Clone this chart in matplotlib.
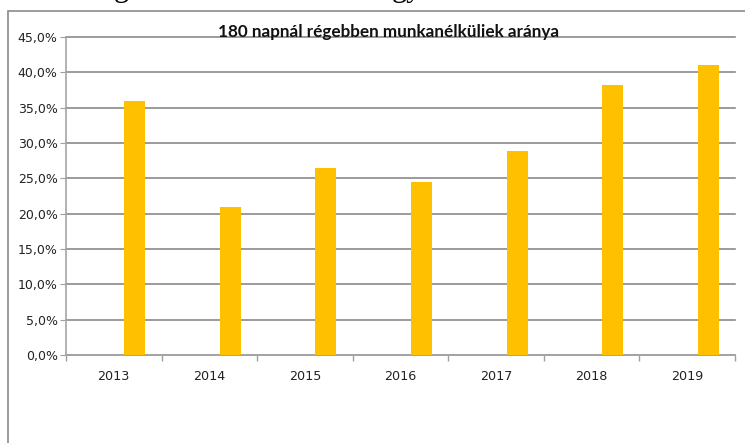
import numpy as np
import matplotlib.pyplot as plt
from matplotlib.patches import Rectangle
from matplotlib.ticker import FuncFormatter

# adatok
evek = ['2013', '2014', '2015', '2016', '2017', '2018', '2019']
arany = [36.0, 20.9, 26.5, 24.5, 28.9, 38.2, 41.0]
cim = '180 napnál régebben munkanélküliek aránya'

W, H = 745, 443
fig = plt.figure(figsize=(W / 100, H / 100), dpi=100)

# kulso keret (jobb es also oldala kilog a kepbol)
fig.patches.append(Rectangle((8 / W, -0.1), 1.2, 1 - 11 / H + 0.1,
                             transform=fig.transFigure, fill=False,
                             edgecolor='#8a8a8a', linewidth=1.2))

# felette levo szoveg alja
fig.text(114 / W, 1 + 4 / H, 'g', family='Liberation Serif', fontsize=22, ha='left', va='baseline')
fig.text(392 / W, 1 + 4 / H, 'gy', family='Liberation Serif', fontsize=22, ha='left', va='baseline')

ax = fig.add_axes([66 / W, 1 - 355 / H, 669 / W, 318 / H])

x = np.arange(len(evek))
szel = 0.22
ax.bar(x + szel, arany, width=szel, color='#FFC000', zorder=3)

ax.set_xlim(-0.5, len(evek) - 0.5)
ax.set_ylim(0, 45)
ax.set_yticks(np.arange(0, 46, 5))
ax.yaxis.set_major_formatter(FuncFormatter(lambda v, p: f'{v:.1f}%'.replace('.', ',')))
ax.grid(axis='y', color='#8a8a8a', linewidth=1.2, zorder=0)
for gl in ax.get_ygridlines():
    gl.set_clip_on(False)

ax.set_xticks(x)
ax.set_xticklabels(evek)
ax.set_xticks(np.arange(-0.5, len(evek)), minor=True)
ax.tick_params(axis='x', which='major', length=0, pad=11, labelsize=9.2, colors='#222222')
ax.tick_params(axis='x', which='minor', length=4, color='#a0a0a0', width=1)
ax.tick_params(axis='y', length=4, color='#a0a0a0', labelsize=9, labelcolor='#222222', pad=2)

for s in ['top', 'right']:
    ax.spines[s].set_visible(False)
for s in ['left', 'bottom']:
    ax.spines[s].set_color('#a6a6a6')
    ax.spines[s].set_linewidth(1.2)

fig.text(389 / W, 1 - 37 / H, cim, family='Lato', fontweight='bold', fontsize=12.3,
         ha='center', va='baseline', color='#111111', zorder=5)

fig.savefig('out.png', dpi=100)
